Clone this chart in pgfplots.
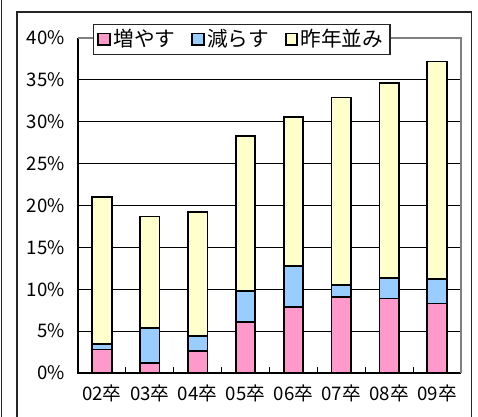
\documentclass[border=0pt]{standalone}
\usepackage{fontspec}
\setmainfont{Noto Sans CJK JP}
\usepackage{pgfplots}
\pgfplotsset{compat=1.18}
\definecolor{cinc}{HTML}{FF99CC}
\definecolor{cdec}{HTML}{99CCFF}
\definecolor{csame}{HTML}{FFFFCC}
\definecolor{frameg}{HTML}{808080}
\begin{document}
\fontsize{14}{16}\selectfont
\begin{tikzpicture}[x=0.75pt,y=0.75pt]
\useasboundingbox (0,0) rectangle (478,417);
\fill[white] (0,0) rectangle (478,417);
\draw[black!85, line width=1pt] (17,-5) -- (17,405) -- (471.7,405) -- (471.7,-5);
\draw[black!85, line width=1pt] (1.5,-5) -- (1.5,420);
\begin{axis}[
  at={(58.5pt,33pt)}, anchor=south west,
  scale only axis, width=287.25pt, height=251.25pt,
  xmin=-0.5, xmax=7.5, ymin=0, ymax=40,
  ybar stacked, bar width=14.6pt,
  clip=false,
  axis line style={draw=none},
  ytick={0,5,...,40},
  yticklabel={\pgfmathprintnumber{\tick}\%},
  ytick style={draw=none},
  yticklabel style={xshift=-5pt},
  ymajorgrids, grid style={black, line width=0.75pt},
  xtick={0.5,1.5,...,6.5}, xticklabels={,,,,,,},
  xtick pos=bottom, ytick pos=left,
  tick align=inside, major tick length=4.5pt,
  xtick style={black, line width=0.75pt},
  extra x ticks={0,1,2,3,4,5,6,7},
  extra x tick labels={02卒,03卒,04卒,05卒,06卒,07卒,08卒,09卒},
  extra x tick style={major tick length=0pt, grid=none, xticklabel style={yshift=-4pt}},
  /pgf/number format/assume math mode=true,
  ticklabel style={font=\fontsize{14}{16}\selectfont},
  legend columns=3,
  legend style={at={(0.039,1.042)}, anchor=north west, draw=black!85, line width=0.8pt, fill=white,
    font=\fontsize{15.5}{17}\selectfont, inner xsep=3pt, inner ysep=1.5pt,
    /tikz/every even column/.append style={column sep=10pt}},
  legend image code/.code={\draw[#1, draw=black, line width=1.3pt] (0pt,-4.3pt) rectangle (8.6pt,4.3pt);},
  every axis plot/.append style={draw=black, line width=1.3pt},
]
\addplot[fill=cinc] coordinates {(0,2.8) (1,1.2) (2,2.65) (3,6.1) (4,7.9) (5,9.1) (6,8.9) (7,8.3)};
\addplot[fill=cdec] coordinates {(0,0.7) (1,4.2) (2,1.75) (3,3.7) (4,4.9) (5,1.4) (6,2.4) (7,2.9)};
\addplot[fill=csame] coordinates {(0,17.5) (1,13.3) (2,14.8) (3,18.5) (4,17.8) (5,22.4) (6,23.3) (7,26.0)};
\draw[frameg, line width=1.5pt] (rel axis cs:0,1) -- (rel axis cs:1,1) -- (rel axis cs:1,0);
\draw[black, line width=1.5pt] (rel axis cs:0,1) -- (rel axis cs:0,0) -- (rel axis cs:1,0);
\legend{増やす,減らす,昨年並み}
\end{axis}
\end{tikzpicture}
\end{document}
